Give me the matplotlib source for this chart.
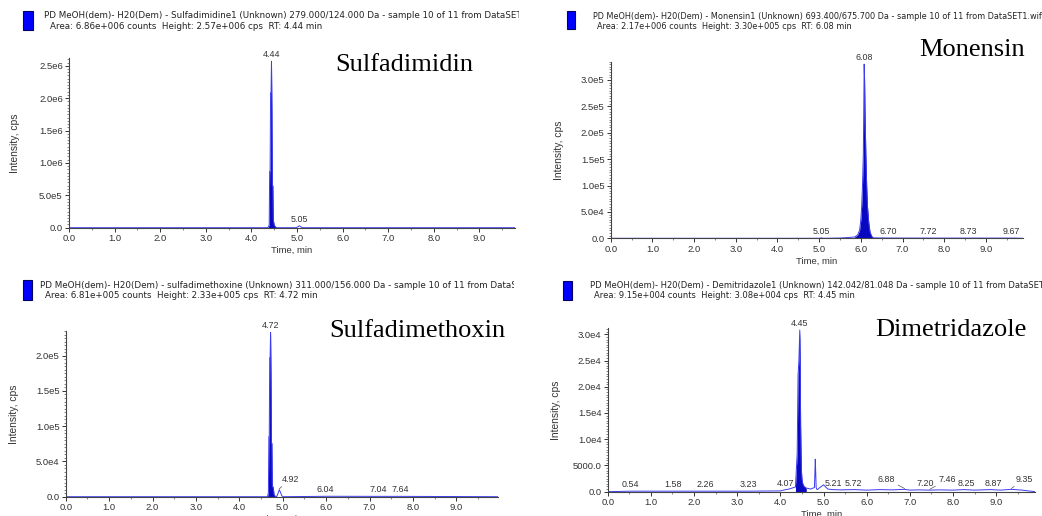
# chromatograms (4 panels) redrawn from a screenshot
import numpy as np
import matplotlib.pyplot as plt
from matplotlib.patches import Rectangle
from matplotlib.ticker import MultipleLocator, FixedLocator, FixedFormatter

plt.rcParams['font.family'] = ['Liberation Sans', 'DejaVu Sans']

# ---- data -------------------------------------------------------------
# Sulfadimidin
t1 = [0.0, 4.36, 4.39, 4.40, 4.41, 4.42, 4.43, 4.44, 4.45, 4.46, 4.47, 4.48, 4.50, 4.53, 4.56, 4.98, 5.02, 5.05, 5.08, 5.12, 9.78]
y1 = [0, 0, 4e4, 8.7e5, 8.7e5, 2.08e6, 2.08e6, 2.57e6, 1.80e6, 6.5e5, 6.5e5, 1.2e5, 4e4, 1e4, 0, 0, 1.5e4, 3e4, 1.5e4, 0, 0]
peaks1 = [(4.44, '4.44'), (5.05, '5.05')]

# Monensin
t2 = [0.0, 5.0, 5.05, 5.1, 5.5, 5.7, 5.85, 5.92, 5.97, 6.00, 6.02, 6.04, 6.06, 6.07, 6.08, 6.09, 6.10, 6.12, 6.14, 6.16, 6.19, 6.22, 6.26, 6.30, 6.70, 7.72, 8.73, 9.67, 9.89]
y2 = [0, 0, 800, 0, 500, 1500, 2500, 6000, 1.5e4, 3.5e4, 6e4, 1.0e5, 1.6e5, 2.4e5, 3.30e5, 3.0e5, 2.4e5, 1.6e5, 1.0e5, 6e4, 3e4, 1.2e4, 4000, 800, 500, 400, 400, 400, 0]
peaks2 = [(5.05, '5.05'), (6.08, '6.08'), (6.70, '6.70'), (7.72, '7.72'), (8.73, '8.73'), (9.67, '9.67')]

# Sulfadimethoxin
t3 = [0.0, 4.65, 4.67, 4.68, 4.69, 4.70, 4.71, 4.72, 4.73, 4.74, 4.75, 4.76, 4.78, 4.80, 4.83, 4.86, 4.90, 4.92, 4.95, 4.98, 5.02, 6.04, 7.04, 7.64, 9.96]
y3 = [0, 0, 6e3, 8.5e4, 8.5e4, 1.97e5, 1.97e5, 2.33e5, 1.73e5, 7.6e4, 7.6e4, 1.4e4, 1.4e4, 3e3, 500, 0, 6e3, 1.0e4, 6e3, 1000, 0, 600, 500, 500, 0]
peaks3 = [(4.72, '4.72'), (4.92, '4.92'), (6.04, '6.04'), (7.04, '7.04'), (7.64, '7.64')]

# Dimetridazole
t4 = [0.0, 0.54, 1.58, 2.26, 3.23, 4.0, 4.07, 4.2, 4.35, 4.39, 4.41, 4.43, 4.45, 4.46, 4.47, 4.48, 4.49, 4.50, 4.52, 4.55, 4.6, 4.7, 4.79, 4.80, 4.81, 4.82, 4.83, 4.84, 4.86, 4.9, 5.0, 5.05, 5.10, 5.21, 5.4, 5.72, 6.0, 6.3, 6.6, 6.88, 7.0, 7.20, 7.46, 7.7, 8.0, 8.25, 8.5, 8.87, 9.1, 9.35, 9.6, 9.9]
y4 = [0, 100, 100, 100, 100, 150, 300, 500, 900, 7300, 2.22e4, 2.51e4, 3.08e4, 2.51e4, 1.27e4, 7300, 3800, 2500, 1500, 1000, 700, 500, 800, 3500, 6200, 3500, 800, 500, 400, 700, 1300, 900, 500, 400, 350, 400, 300, 400, 350, 450, 300, 350, 300, 350, 300, 400, 300, 400, 300, 450, 300, 0]
peaks4 = [(0.54, '0.54'), (1.58, '1.58'), (2.26, '2.26'), (3.23, '3.23'), (4.07, '4.07'), (4.45, '4.45'), (5.21, '5.21'), (5.72, '5.72'), (6.88, '6.88'), (7.20, '7.20'), (7.46, '7.46'), (8.25, '8.25'), (8.87, '8.87'), (9.35, '9.35')]

xticks = [0.0, 1.0, 2.0, 3.0, 4.0, 5.0, 6.0, 7.0, 8.0, 9.0]
xlabels = ['0.0', '1.0', '2.0', '3.0', '4.0', '5.0', '6.0', '7.0', '8.0', '9.0']
yticks1 = [0, 5e5, 1e6, 1.5e6, 2e6, 2.5e6]
ylabels1 = ['0.0', '5.0e5', '1.0e6', '1.5e6', '2.0e6', '2.5e6']
yticks2 = [0, 5e4, 1e5, 1.5e5, 2e5, 2.5e5, 3e5]
ylabels2 = ['0.0', '5.0e4', '1.0e5', '1.5e5', '2.0e5', '2.5e5', '3.0e5']
yticks3 = [0, 5e4, 1e5, 1.5e5, 2e5]
ylabels3 = ['0.0', '5.0e4', '1.0e5', '1.5e5', '2.0e5']
yticks4 = [0, 5000, 1e4, 1.5e4, 2e4, 2.5e4, 3e4]
ylabels4 = ['0.0', '5000.0', '1.0e4', '1.5e4', '2.0e4', '2.5e4', '3.0e4']

names = ['Sulfadimidin', 'Monensin', 'Sulfadimethoxin', 'Dimetridazole']
head1 = ['PD MeOH(dem)- H20(Dem) - Sulfadimidine1 (Unknown) 279.000/124.000 Da - sample 10 of 11 from DataSET1.wiff',
         'PD MeOH(dem)- H20(Dem) - Monensin1 (Unknown) 693.400/675.700 Da - sample 10 of 11 from DataSET1.wiff',
         'PD MeOH(dem)- H20(Dem) - sulfadimethoxine (Unknown) 311.000/156.000 Da - sample 10 of 11 from DataSET1.wiff',
         'PD MeOH(dem)- H20(Dem) - Demitridazole1 (Unknown) 142.042/81.048 Da - sample 10 of 11 from DataSET1.wiff']
head2 = ['Area: 6.86e+006 counts  Height: 2.57e+006 cps  RT: 4.44 min',
         'Area: 2.17e+006 counts  Height: 3.30e+005 cps  RT: 6.08 min',
         'Area: 6.81e+005 counts  Height: 2.33e+005 cps  RT: 4.72 min',
         'Area: 9.15e+004 counts  Height: 3.08e+004 cps  RT: 4.45 min']

W, H = 1042, 516
fig = plt.figure(figsize=(W / 100, H / 100), dpi=100)

def px_axes(x0, x1, ytop, ybot):
    return fig.add_axes([x0 / W, 1 - ybot / H, (x1 - x0) / W, (ybot - ytop) / H])

def header(x0, x1, y0, rect, l1, l2, txt1, txt2, fs=6.3):
    ax = px_axes(x0, x1, y0, y0 + 36)
    ax.set_xlim(x0, x1)
    ax.set_ylim(y0 + 36, y0)
    ax.axis('off')
    ax.add_patch(Rectangle((rect[0], rect[1]), rect[2], rect[3], facecolor='#0000ff',
                           edgecolor='#000060', lw=0.8))
    ax.text(l1[0], l1[1], txt1, fontsize=fs, family='DejaVu Sans', va='baseline',
            ha='left', color='#222222', clip_on=True)
    ax.text(l2[0], l2[1], txt2, fontsize=fs, family='DejaVu Sans', va='baseline',
            ha='left', color='#222222', clip_on=True)

def panel(ax, t, y, xmax, ymax, yt, yl, peaks, off, fill_rng, shift={}, leader=()):
    t = np.asarray(t)
    y = np.asarray(y)
    m = (t >= fill_rng[0]) & (t <= fill_rng[1])
    ax.fill_between(t[m], y[m], color='#0808c0', lw=0)
    ax.plot(t, y, color='#3c3cf0', lw=0.7)
    ax.set_xlim(0, xmax)
    ax.set_ylim(0, ymax)
    for sp in ['top', 'right']:
        ax.spines[sp].set_visible(False)
    for sp in ['left', 'bottom']:
        ax.spines[sp].set_color('#444444')
        ax.spines[sp].set_linewidth(0.8)
    ax.xaxis.set_major_locator(FixedLocator(xticks))
    ax.xaxis.set_major_formatter(FixedFormatter(xlabels))
    ax.xaxis.set_minor_locator(MultipleLocator(0.5))
    ax.yaxis.set_major_locator(FixedLocator(yt))
    ax.yaxis.set_major_formatter(FixedFormatter(yl))
    ax.yaxis.set_minor_locator(MultipleLocator(yt[1] / 10))
    ax.tick_params(labelsize=6.8, colors='#333333', length=3, width=0.7, pad=1.5)
    ax.tick_params(which='minor', length=1.5, width=0.5, colors='#555555')
    ax.set_xlabel('Time, min', fontsize=6.8, color='#333333', labelpad=2)
    ax.set_ylabel('Intensity, cps', fontsize=7.4, color='#333333', labelpad=off)
    for tp, lab in peaks:
        yv = np.interp(tp, t, y)
        tx = tp + shift.get(lab, 0.0)
        ty = yv + 0.012 * ymax
        if lab in leader:
            ty = yv + 0.035 * ymax
            ax.annotate(lab, (tp, yv + 0.005 * ymax), xytext=(tx, ty), textcoords='data',
                        ha='center', va='bottom', fontsize=6.4, color='#333333',
                        annotation_clip=False,
                        arrowprops=dict(arrowstyle='-', lw=0.5, color='#555555',
                                        shrinkA=0, shrinkB=0))
        else:
            ax.text(tx, ty, lab, ha='center', va='bottom', fontsize=6.4, color='#333333')

# panel boxes in pixel coords: x at 0 min, x right end, y top, y at 0
ax1 = px_axes(69, 515, 58, 227.7)
panel(ax1, t1, y1, 9.78, 2.62e6, yticks1, ylabels1, peaks1, 14, (4.36, 4.56))
ax2 = px_axes(610.7, 1023, 61.5, 238.3)
panel(ax2, t2, y2, 9.89, 3.35e5, yticks2, ylabels2, peaks2, 12, (5.85, 6.30),
      shift={'6.70': -0.05, '7.72': -0.1, '8.73': -0.15, '9.67': -0.07})
ax3 = px_axes(65.7, 498, 331, 496.7)
panel(ax3, t3, y3, 9.96, 2.35e5, yticks3, ylabels3, peaks3, 12, (4.65, 4.86),
      shift={'4.92': 0.25, '6.04': -0.06, '7.04': 0.15, '7.64': 0.06}, leader=('4.92',))
ax4 = px_axes(607.7, 1035, 328, 491.7)
panel(ax4, t4, y4, 9.9, 3.12e4, yticks4, ylabels4, peaks4, 8, (4.35, 4.6),
      shift={'0.54': -0.02, '1.58': -0.06, '3.23': 0.03, '4.07': 0.06, '5.21': 0.02,
             '5.72': -0.03, '6.88': -0.42, '7.20': 0.16, '7.46': 0.4, '8.25': 0.05,
             '8.87': 0.07, '9.35': 0.3},
      leader=('6.88', '7.46', '9.35'))

header(0, 519, 0, (22.7, 11, 10.6, 19), (44, 18.3), (50, 29.3), head1[0], head2[0])
header(522, 1042, 0, (566.7, 11, 8.5, 18), (592.7, 19.3), (597, 28.8), head1[1], head2[1], fs=5.9)
header(0, 514, 270, (23, 280, 9, 20), (40, 288.3), (45, 298.3), head1[2], head2[2])
header(522, 1042, 270, (563, 281, 9, 19), (590, 288.3), (594, 298.3), head1[3], head2[3], fs=6.0)

# compound names in big serif type
serif = ['Liberation Serif', 'DejaVu Serif']
fig.text(335 / W, 1 - 65 / H, names[0], fontsize=19, family=serif, va='center', ha='left')
fig.text(1025 / W, 1 - 50 / H, names[1], fontsize=19, family=serif, va='center', ha='right')
fig.text(329 / W, 1 - 331 / H, names[2], fontsize=19, family=serif, va='center', ha='left')
fig.text(1027 / W, 1 - 330 / H, names[3], fontsize=19, family=serif, va='center', ha='right')

plt.savefig('out.png', dpi=100)
